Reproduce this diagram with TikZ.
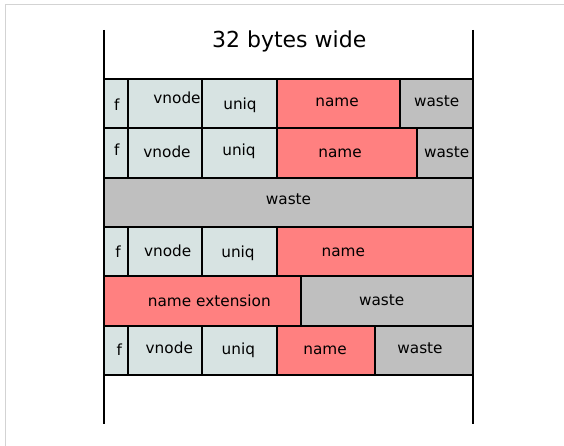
\documentclass[tikz,border=0pt]{standalone}
\usepackage{fontspec}
\setmainfont{DejaVu Sans}
\definecolor{hdrfill}{HTML}{D7E3E2}
\definecolor{namefill}{HTML}{FF8080}
\definecolor{wastefill}{HTML}{BFBFBF}
\definecolor{framegray}{HTML}{D3D3D3}
\begin{document}
\begin{tikzpicture}[x=1pt,y=-1pt,
  cell/.style={draw=black,line width=2.2pt},
  hdr/.style={cell,fill=hdrfill},
  nm/.style={cell,fill=namefill},
  wst/.style={cell,fill=wastefill},
  lbl/.style={anchor=base,inner sep=0pt,font=\fontsize{15.3}{18}\selectfont},
  ttl/.style={anchor=base,inner sep=0pt,font=\fontsize{22}{26}\selectfont},
  rail/.style={draw=black,line width=2.3pt}]
\useasboundingbox (0,0) rectangle (564,446);
% page frame
\draw[framegray,line width=1pt] (564,5) -- (5,5) -- (5,446);

% row 1
\path[hdr] (104,79) rectangle (128,128.3);
\path[hdr] (128,79) rectangle (202,128.3);
\path[hdr] (202,79) rectangle (277,128.3);
\path[nm]  (277,79) rectangle (400,128.3);
\path[wst] (400,79) rectangle (473,128.3);
% row 2
\path[hdr] (104,128.3) rectangle (128,177.7);
\path[hdr] (128,128.3) rectangle (202,177.7);
\path[hdr] (202,128.3) rectangle (277,177.7);
\path[nm]  (277,128.3) rectangle (417,177.7);
\path[wst] (417,128.3) rectangle (473,177.7);
% row 3
\path[wst] (104,177.7) rectangle (473,227);
% row 4
\path[hdr] (104,227) rectangle (128,276.3);
\path[hdr] (128,227) rectangle (202,276.3);
\path[hdr] (202,227) rectangle (277,276.3);
\path[nm]  (277,227) rectangle (473,276.3);
% row 5
\path[nm]  (104,276.3) rectangle (301,325.7);
\path[wst] (301,276.3) rectangle (473,325.7);
% row 6
\path[hdr] (104,325.7) rectangle (128,375);
\path[hdr] (128,325.7) rectangle (202,375);
\path[hdr] (202,325.7) rectangle (277,375);
\path[nm]  (277,325.7) rectangle (375,375);
\path[wst] (375,325.7) rectangle (473,375);

% side rails
\coordinate (railLtop) at (104,30);
\coordinate (railLbot) at (104,424);
\coordinate (railRtop) at (473,30);
\coordinate (railRbot) at (473,424);
\draw[rail] (railLtop) -- (railLbot);
\draw[rail] (railRtop) -- (railRbot);

% title
\node[ttl] (title) at (289.2,47.7) {32 bytes wide};

% labels, row 1
\node[lbl] (f1) at (116.7,111) {f};
\node[lbl] (v1) at (177,104) {vnode};
\node[lbl] (u1) at (240,109.3) {uniq};
\node[lbl] (n1) at (337,106.7) {name};
\node[lbl] (w1) at (436.7,106.7) {waste};
% row 2
\node[lbl] (f2) at (116.7,156) {f};
\node[lbl] (v2) at (167,157.7) {vnode};
\node[lbl] (u2) at (239,155.5) {uniq};
\node[lbl] (n2) at (340,157.7) {name};
\node[lbl] (w2) at (446.7,157.7) {waste};
% row 3
\node[lbl] (w3) at (288.5,205) {waste};
% row 4
\node[lbl] (f4) at (118,257.3) {f};
\node[lbl] (v4) at (167.7,256.3) {vnode};
\node[lbl] (u4) at (238,257) {uniq};
\node[lbl] (n4) at (343.3,256) {name};
% row 5
\node[lbl] (x5) at (209.3,306) {name extension};
\node[lbl] (w5) at (381.7,305.7) {waste};
% row 6
\node[lbl] (f6) at (119.3,355) {f};
\node[lbl] (v6) at (169.3,353.3) {vnode};
\node[lbl] (u6) at (238.3,354) {uniq};
\node[lbl] (n6) at (325,354) {name};
\node[lbl] (w6) at (420,353.3) {waste};
\end{tikzpicture}
\end{document}
